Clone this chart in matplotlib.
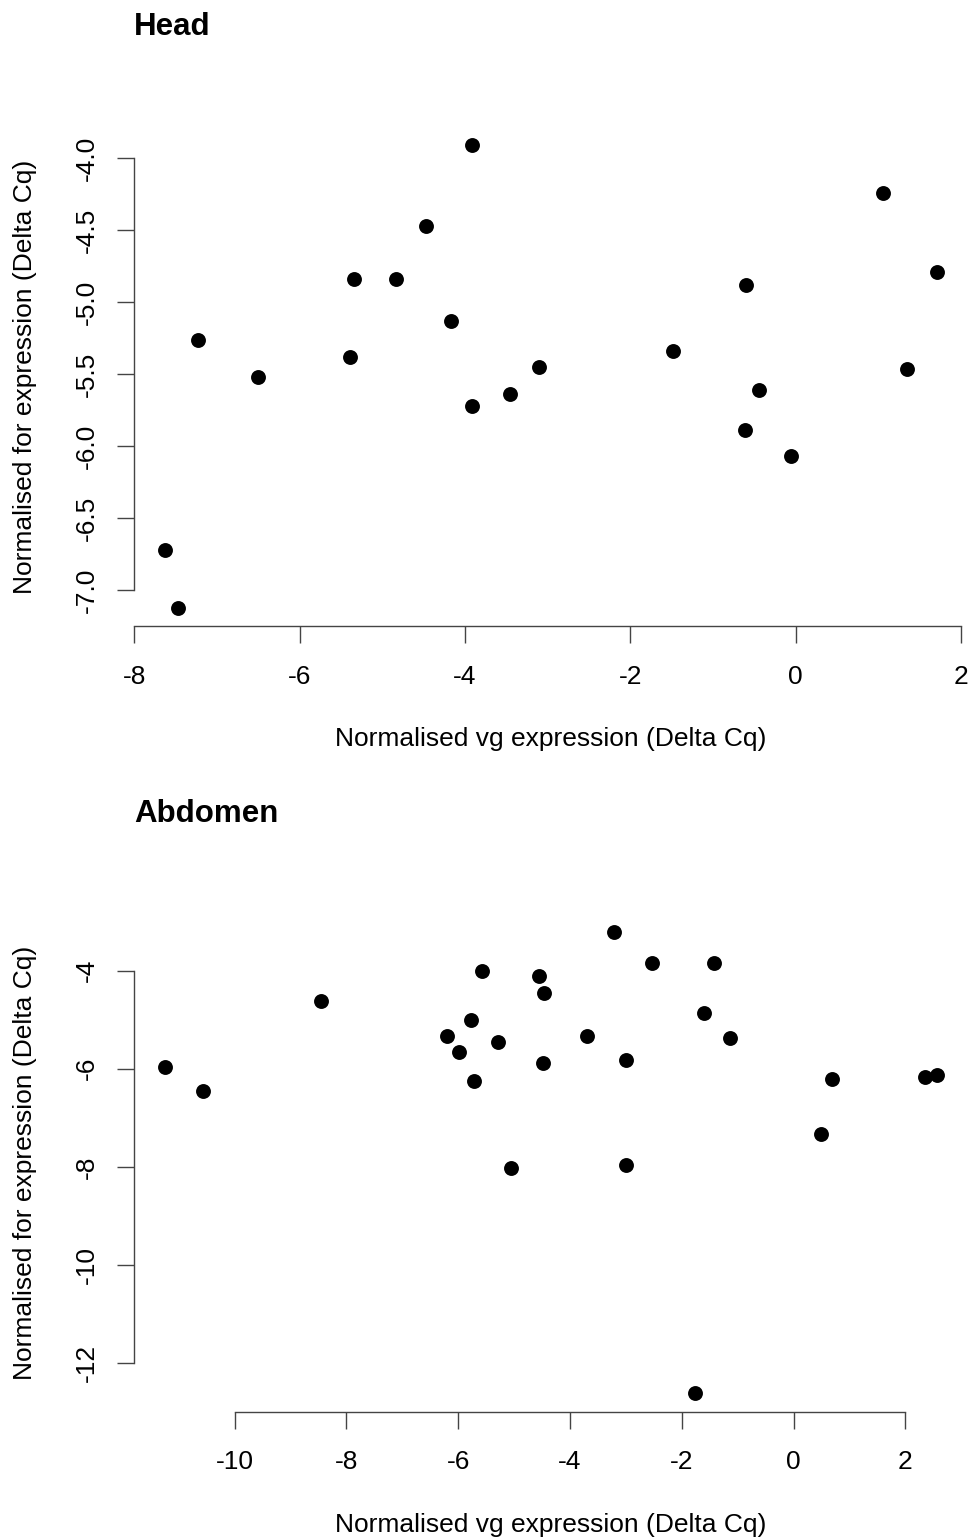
import numpy as np
import matplotlib.pyplot as plt

plt.rcParams['font.family'] = ['Liberation Sans', 'DejaVu Sans']
plt.rcParams['axes.unicode_minus'] = False

# Head: normalised vg vs for expression (Delta Cq)
head_vg = [-3.91, 1.05, -4.47, 1.71, -5.34, -4.84, -0.60, -4.17, -7.23, -1.49,
           -5.39, -3.10, 1.35, -6.50, -0.45, -3.45, -3.91, -0.61, -0.06, -7.63, -7.47]
head_for = [-3.91, -4.24, -4.47, -4.79, -4.84, -4.84, -4.88, -5.13, -5.26, -5.34,
            -5.38, -5.45, -5.46, -5.52, -5.61, -5.64, -5.72, -5.89, -6.07, -6.72, -7.12]

# Abdomen
abd_vg = [-3.22, -5.57, -2.53, -1.43, -4.55, -4.46, -8.46, -1.60, -5.78, -6.21,
          -3.69, -1.13, -5.28, -5.99, -2.99, -4.49, -11.25, 2.57, 2.36, 0.68,
          -5.71, -10.57, 0.50, -2.99, -5.06, -1.76]
abd_for = [-3.22, -4.00, -3.84, -3.84, -4.10, -4.45, -4.61, -4.86, -5.00, -5.33,
           -5.33, -5.37, -5.45, -5.65, -5.82, -5.88, -5.96, -6.12, -6.16, -6.20,
           -6.24, -6.45, -7.33, -7.96, -8.02, -12.61]

head_xticks = [-8, -6, -4, -2, 0, 2]
head_yticks = [-4.0, -4.5, -5.0, -5.5, -6.0, -6.5, -7.0]
abd_xticks = [-10, -8, -6, -4, -2, 0, 2]
abd_yticks = [-4, -6, -8, -10, -12]

W, H = 971, 1539
fig = plt.figure(figsize=(W / 100, H / 100), dpi=100)

fs = 19
axcol = '#444444'


def panel(rect, x, y, xt, yt, yfmt, title, title_base, xlab_base):
    ax = fig.add_axes(rect)
    ax.scatter(x, y, s=115, color='black', linewidths=0, zorder=3)
    # R style 4% padding
    xr = max(x) - min(x)
    yr = max(y) - min(y)
    ax.set_xlim(min(x) - 0.04 * xr, max(x) + 0.04 * xr)
    ax.set_ylim(min(y) - 0.04 * yr, max(y) + 0.04 * yr)
    ax.set_xticks(xt)
    ax.set_yticks(yt)
    ax.set_yticklabels([yfmt % v for v in yt], rotation=90, va='center')
    for s in ['top', 'right']:
        ax.spines[s].set_visible(False)
    ax.spines['bottom'].set_bounds(min(xt), max(xt))
    ax.spines['left'].set_bounds(min(yt), max(yt))
    for s in ['bottom', 'left']:
        ax.spines[s].set_color(axcol)
        ax.spines[s].set_linewidth(1.0)
    ax.tick_params(length=12, width=1.0, color=axcol, labelsize=fs, pad=13)
    ax.tick_params(axis='x', pad=16)
    ax.patch.set_visible(False)
    bottom, height = rect[1], rect[3]
    fig.text(134 / W, 1 - title_base / H, title, fontsize=22.5, fontweight='bold',
             ha='left', va='baseline')
    fig.text(551 / W, 1 - xlab_base / H, 'Normalised vg expression (Delta Cq)',
             fontsize=fs, ha='center', va='baseline')
    fig.text(25 / W, bottom + height / 2, 'Normalised for expression (Delta Cq)',
             fontsize=fs, rotation=90, ha='center', va='center')
    return ax


panel([134 / W, 1 - 626 / H, 834 / W, 499 / H], head_vg, head_for,
      head_xticks, head_yticks, '%.1f', 'Head', 35, 746)
panel([134 / W, 1 - 1411.5 / H, 834 / W, 497.5 / H], abd_vg, abd_for,
      abd_xticks, abd_yticks, '%d', 'Abdomen', 822, 1532)

fig.savefig('out.png', dpi=100)
